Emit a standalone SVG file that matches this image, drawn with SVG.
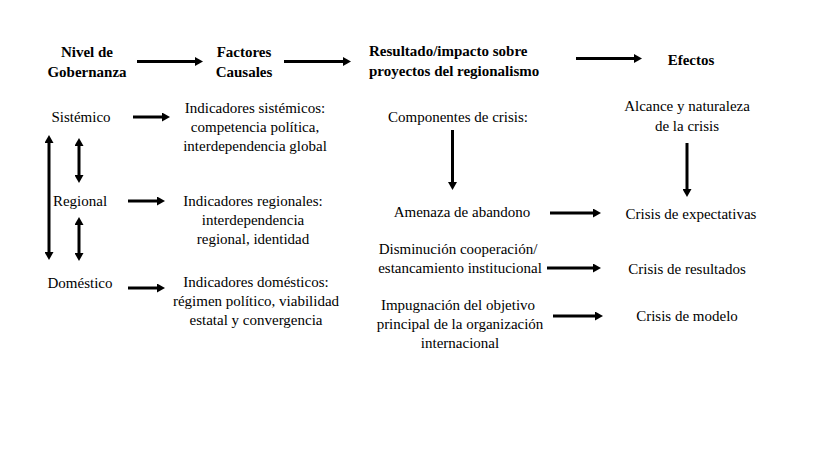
<svg xmlns="http://www.w3.org/2000/svg" width="837" height="471" viewBox="0 0 837 471">
<style>
text{font-family:"Liberation Serif","Times New Roman",serif;font-size:15px;fill:#000;text-anchor:middle}
.h{font-weight:bold}
.c line{stroke:#000;stroke-width:3;fill:none}
</style>
<defs>
<marker id="ah" markerUnits="userSpaceOnUse" markerWidth="8" markerHeight="9" refX="2" refY="4.5" orient="auto-start-reverse" viewBox="0 0 8 9">
<path d="M0,0 L8,4.5 L0,9 z" fill="#000"/>
</marker>
</defs>
<rect width="837" height="471" fill="#fff"/>
<g id="h-nivel"><text class="h" x="87" y="57">Nivel de</text><text class="h" x="87" y="77">Gobernanza</text></g>
<g id="h-factores"><text class="h" x="244" y="57">Factores</text><text class="h" x="244" y="77">Causales</text></g>
<g id="h-resultado"><text class="h" x="369" y="56" style="text-anchor:start">Resultado/impacto sobre</text><text class="h" x="369" y="76" style="text-anchor:start">proyectos del regionalismo</text></g>
<g id="h-efectos"><text class="h" x="691" y="65">Efectos</text></g>
<g id="n-sistemico"><text x="81" y="122">Sistémico</text></g>
<g id="n-regional"><text x="80" y="206">Regional</text></g>
<g id="n-domestico"><text x="80" y="288">Doméstico</text></g>
<g id="n-ind-sis"><text x="255" y="113">Indicadores sistémicos:</text><text x="255" y="132">competencia política,</text><text x="255" y="151">interdependencia global</text></g>
<g id="n-ind-reg"><text x="253" y="206">Indicadores regionales:</text><text x="253" y="225">interdependencia</text><text x="253" y="244">regional, identidad</text></g>
<g id="n-ind-dom"><text x="256" y="287">Indicadores domésticos:</text><text x="256" y="306">régimen político, viabilidad</text><text x="256" y="325">estatal y convergencia</text></g>
<g id="n-componentes"><text x="458" y="122">Componentes de crisis:</text></g>
<g id="n-alcance"><text x="687" y="111">Alcance y naturaleza</text><text x="687" y="131">de la crisis</text></g>
<g id="n-amenaza"><text x="462" y="217">Amenaza de abandono</text></g>
<g id="n-disminucion"><text x="458" y="254">Disminución cooperación/</text><text x="460" y="273">estancamiento institucional</text></g>
<g id="n-impugnacion"><text x="458" y="310">Impugnación del objetivo</text><text x="460" y="329">principal de la organización</text><text x="460" y="348">internacional</text></g>
<g id="n-expectativas"><text x="691" y="219">Crisis de expectativas</text></g>
<g id="n-resultados"><text x="687" y="274">Crisis de resultados</text></g>
<g id="n-modelo"><text x="687" y="321">Crisis de modelo</text></g>
<g id="connectors" class="c">
<line x1="137" y1="61.5" x2="197" y2="61.5" marker-end="url(#ah)"/>
<line x1="284" y1="61.5" x2="345" y2="61.5" marker-end="url(#ah)"/>
<line x1="576" y1="58.5" x2="636" y2="58.5" marker-end="url(#ah)"/>
<line x1="133" y1="117" x2="164" y2="117" marker-end="url(#ah)"/>
<line x1="128" y1="201" x2="159" y2="201" marker-end="url(#ah)"/>
<line x1="128" y1="288" x2="159" y2="288" marker-end="url(#ah)"/>
<line x1="49" y1="141" x2="49" y2="254" marker-start="url(#ah)" marker-end="url(#ah)"/>
<line x1="79" y1="144" x2="79" y2="177" marker-start="url(#ah)" marker-end="url(#ah)"/>
<line x1="79" y1="223" x2="79" y2="255" marker-start="url(#ah)" marker-end="url(#ah)"/>
<line x1="452.5" y1="130" x2="452.5" y2="184" marker-end="url(#ah)"/>
<line x1="687" y1="143" x2="687" y2="191" marker-end="url(#ah)"/>
<line x1="550" y1="213" x2="595" y2="213" marker-end="url(#ah)"/>
<line x1="547" y1="268" x2="595" y2="268" marker-end="url(#ah)"/>
<line x1="553" y1="316" x2="597" y2="316" marker-end="url(#ah)"/>
</g>
</svg>
